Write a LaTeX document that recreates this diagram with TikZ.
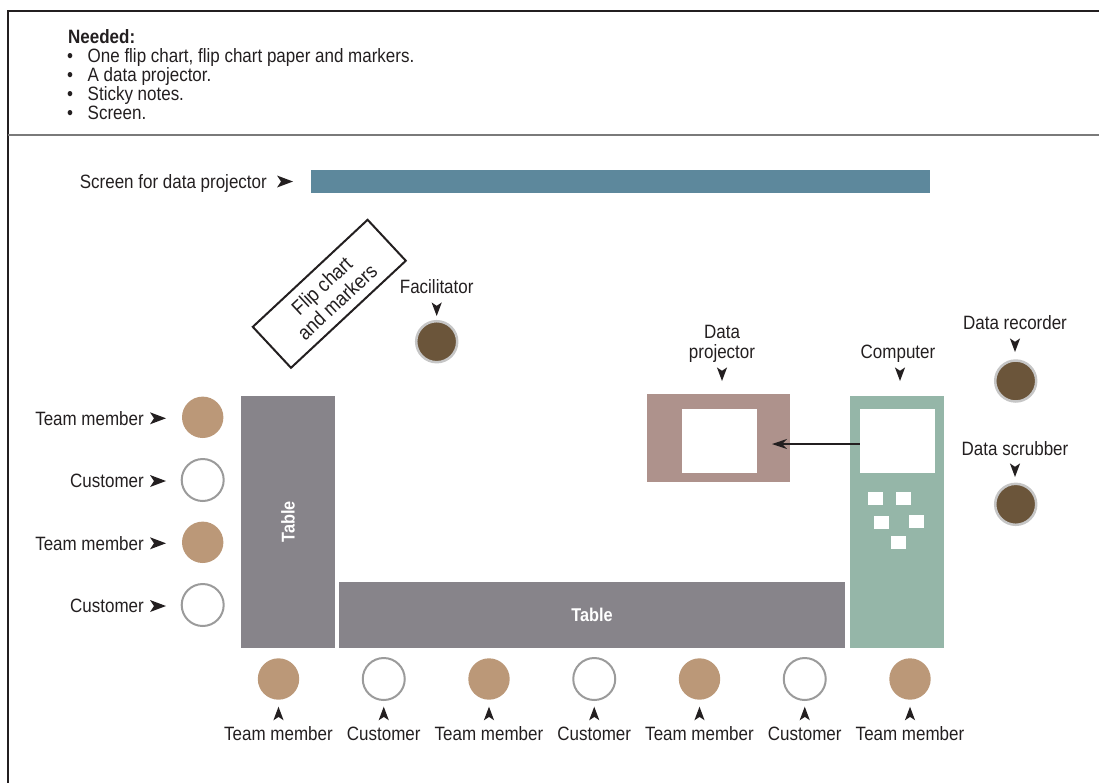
\documentclass[tikz,border=0pt]{standalone}
\usepackage{fontspec}
\setmainfont{Liberation Sans}[FakeStretch=0.88]
\usetikzlibrary{arrows.meta}
\definecolor{ink}{HTML}{231F20}
\definecolor{teamfill}{HTML}{BB9878}
\definecolor{leadfill}{HTML}{6B553A}
\definecolor{leadring}{HTML}{C6C6C6}
\definecolor{custline}{HTML}{9B9B9B}
\definecolor{tablefill}{HTML}{87848A}
\definecolor{projfill}{HTML}{AE928C}
\definecolor{compfill}{HTML}{95B6A8}
\definecolor{screenfill}{HTML}{5D889C}
\definecolor{rulegray}{HTML}{7A7A7A}
\tikzset{headmark/.pic={\fill[ink] (0,0) -- (-16,6) -- (-12,0) -- (-16,-6) -- cycle;}}
\begin{document}
\begin{tikzpicture}[x=1pt,y=-1pt,
	font=\fontsize{19.3}{19.5}\selectfont,text=ink,
	lab/.style={inner sep=0},
	team/.style={circle,fill=teamfill,minimum size=41.4pt,inner sep=0},
	cust/.style={circle,draw=custline,line width=2pt,fill=white,minimum size=42pt,inner sep=0},
	lead/.style={circle,fill=leadfill,draw=leadring,line width=2.5pt,minimum size=41pt,inner sep=0},
	tablebox/.style={fill=tablefill,text=white,font=\fontsize{18.5}{19}\selectfont\bfseries,inner sep=0},
	block/.style={inner sep=0}]
\useasboundingbox (0,0) rectangle (1099,782);
% frame
\draw[ink,line width=2.5pt] (8,800) -- (8,11) -- (1110,11);
\draw[rulegray,line width=2pt] (8,135) -- (1110,135);
% needed
\node[lab,anchor=base west,font=\fontsize{19.3}{19.5}\selectfont\bfseries] (needed) at (68,43) {Needed:};
\foreach \i/\t in {1/{One flip chart, flip chart paper and markers.},2/{A data projector.},3/{Sticky notes.},4/{Screen.}}{
	\node[lab,anchor=base west] (dot\i) at (67,43+19*\i) {\textbullet};
	\node[lab,anchor=base west] (item\i) at (87.5,43+19*\i) {\t};
}
% screen
\node[block,fill=screenfill,minimum width=619pt,minimum height=23pt] (screen) at (620.5,181.5) {};
\node[lab,anchor=base east] (screentxt) at (267,188.3) {Screen for data projector};
\pic at (293,181.5) {headmark};
% flip chart
\node[draw=ink,line width=2pt,minimum width=157pt,minimum height=56pt,rotate=43,align=center,inner sep=0,
	font=\fontsize{20.5}{22.5}\selectfont] (flip) at (329.3,293.8) {Flip chart\\and markers};
% facilitator
\node[lead] (facil) at (436.7,341.7) {};
\node[lab,anchor=base] (faciltxt) at (436.7,293) {Facilitator};
\pic[rotate=-90,scale=0.85] at (436.7,316) {headmark};
% data projector
\node[block,fill=projfill,minimum width=143pt,minimum height=87.5pt] (proj) at (718.5,438) {};
\node[block,fill=white,minimum width=75pt,minimum height=64pt] (pscreen) at (719.5,441) {};
\node[lab,anchor=south,align=center] (projtxt) at (722,362.5) {Data\\projector};
\pic[rotate=-90,scale=0.85] at (722,381) {headmark};
% computer
\node[block,fill=compfill,minimum width=94pt,minimum height=251.7pt] (comp) at (897,522) {};
\node[block,fill=white,minimum width=75pt,minimum height=64pt] (cscreen) at (897.5,441) {};
\foreach \k/\x/\y in {1/875.3/498.5,2/903.3/498.5,3/881.5/522.3,4/916.7/521.7,5/898.3/542.3}
	\node[block,fill=white,minimum width=14.5pt,minimum height=12.5pt] (key\k) at (\x,\y) {};
\node[lab,anchor=base] (comptxt) at (898,358) {Computer};
\pic[rotate=-90,scale=0.85] at (900,381) {headmark};
\coordinate (ptip) at (772,444);
\draw[ink,line width=1.3pt,-{Stealth[length=15pt,width=10pt]}] (cscreen.west |- ptip) -- (ptip);
% recorder, scrubber
\node[lead] (recorder) at (1015.7,381) {};
\node[lab,anchor=base] (recordertxt) at (1015,329.3) {Data recorder};
\pic[rotate=-90,scale=0.85] at (1015,352) {headmark};
\node[lead] (scrubber) at (1015.7,504.3) {};
\node[lab,anchor=base] (scrubbertxt) at (1015,455) {Data scrubber};
\pic[rotate=-90,scale=0.85] at (1015,477) {headmark};
% tables
\node[tablebox,minimum width=251.7pt,minimum height=94pt,rotate=90] (tableside) at (288,522) {Table};
\node[tablebox,minimum width=506pt,minimum height=65.7pt] (tablelong) at (592,614.9) {Table};
% left side
\foreach \y in {417.3,542.3} \node[team] (side\y) at (202.7,\y) {};
\foreach \y in {480,605} \node[cust] (side\y) at (202.7,\y) {};
\foreach \y/\t in {417.3/Team member,480/Customer,542.3/Team member,605/Customer}{
	\node[lab,anchor=base east] (sidetxt\y) at (144,\y+7.7) {\t};
	\pic at (166,\y+1) {headmark};
}
% bottom row
\foreach \i in {0,2,4,6} \node[team] (bot\i) at (278.5+105.25*\i,679) {};
\foreach \i in {1,3,5} \node[cust] (bot\i) at (278.5+105.25*\i,679) {};
\foreach \i/\t in {0/Team member,1/Customer,2/Team member,3/Customer,4/Team member,5/Customer,6/Team member}{
	\node[lab,anchor=base] (bottxt\i) at (278.5+105.25*\i,740) {\t};
	\pic[rotate=90,scale=0.85] at (278.5+105.25*\i,706.7) {headmark};
}
\end{tikzpicture}
\end{document}
